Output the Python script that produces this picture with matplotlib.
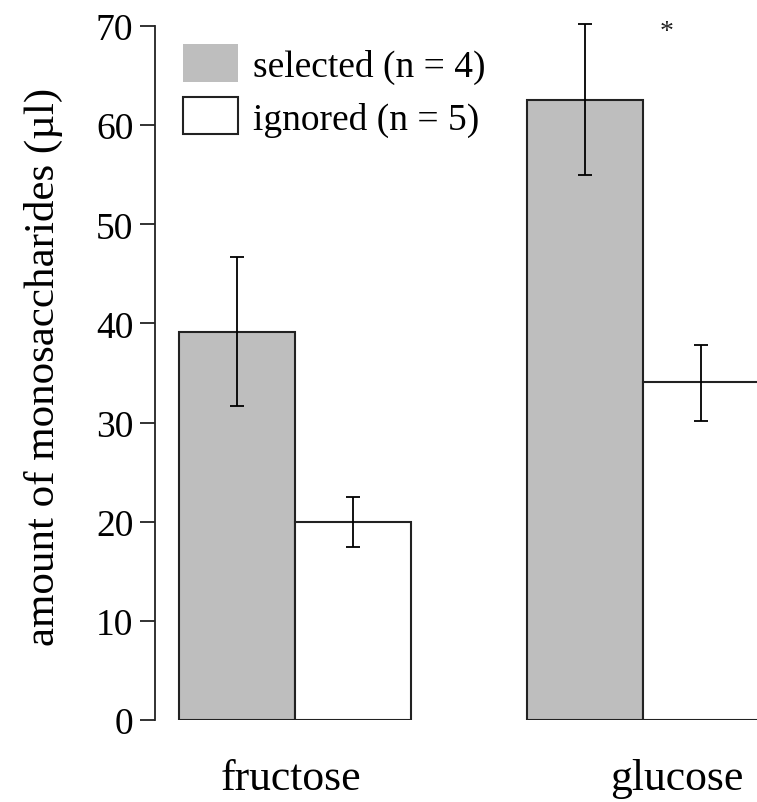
import numpy as np
import matplotlib
matplotlib.use("Agg")
import matplotlib.pyplot as plt

plt.rcParams["font.family"] = ["Liberation Serif", "DejaVu Serif"]

# Data: mean amount (µl) with error bar limits
sugars = ["fructose", "glucose"]
groups = ["selected (n = 4)", "ignored (n = 5)"]
selected_mean = [39.1, 62.5]
selected_low = [31.7, 55.0]
selected_high = [46.7, 70.2]
ignored_mean = [20.0, 34.1]
ignored_low = [17.45, 30.2]
ignored_high = [22.5, 37.8]
yticks = [0, 10, 20, 30, 40, 50, 60, 70]

W, H = 757, 803
fig = plt.figure(figsize=(W / 100, H / 100), dpi=100)
ax = fig.add_axes([155 / W, 82 / H, (W - 155) / W, (721 - 27) / H])

group_x = np.array([0.0, 3.0])
width = 1.0
ec = "#222222"

ax.bar(group_x, selected_mean, width, color="#BEBEBE", edgecolor=ec,
       linewidth=1.5, label=groups[0], zorder=2)
ax.bar(group_x + width, ignored_mean, width, color="white", edgecolor=ec,
       linewidth=1.5, label=groups[1], zorder=2)

# Error bars
sel_err = [np.array(selected_mean) - np.array(selected_low),
           np.array(selected_high) - np.array(selected_mean)]
ign_err = [np.array(ignored_mean) - np.array(ignored_low),
           np.array(ignored_high) - np.array(ignored_mean)]
ax.errorbar(group_x, selected_mean, yerr=sel_err, fmt="none", ecolor="black",
            elinewidth=1.3, capsize=5, capthick=1.3, zorder=3, clip_on=False)
ax.errorbar(group_x + width, ignored_mean, yerr=ign_err, fmt="none",
            ecolor="black", elinewidth=1.3, capsize=5, capthick=1.3, zorder=3)

# significance marker
ax.text(3.707, 69.4, "*", ha="center", va="center", fontsize=20, color="#222222")

ax.set_xlim(-0.707, 4.483)
ax.set_ylim(0, 70)
ax.set_yticks(yticks)
ax.set_xticks([])
for s in ["top", "right", "bottom"]:
    ax.spines[s].set_visible(False)
ax.spines["left"].set_linewidth(1.3)
ax.spines["left"].set_color("#222222")
ax.tick_params(axis="y", length=10.5, width=1.3, pad=5, labelsize=27,
               color="#222222")
ax.set_ylabel("amount of monosaccharides (µl)", fontsize=31)
ax.yaxis.set_label_coords(-0.153, 0.51)

# group labels under the bars
ax.text(0.461, -5.8, sugars[0], ha="center", va="center", fontsize=31.5)
ax.text(3.793, -5.8, sugars[1], ha="center", va="center", fontsize=31.5)

leg = ax.legend(loc="upper left", bbox_to_anchor=(0.009, 1.006), frameon=False,
                fontsize=27, handlelength=1.47, handleheight=1.15,
                handletextpad=0.4, labelspacing=0.36, borderaxespad=0.2)
# filled key has no outline
leg.legend_handles[0].set_edgecolor("none")

fig.savefig("out.png", dpi=100)
